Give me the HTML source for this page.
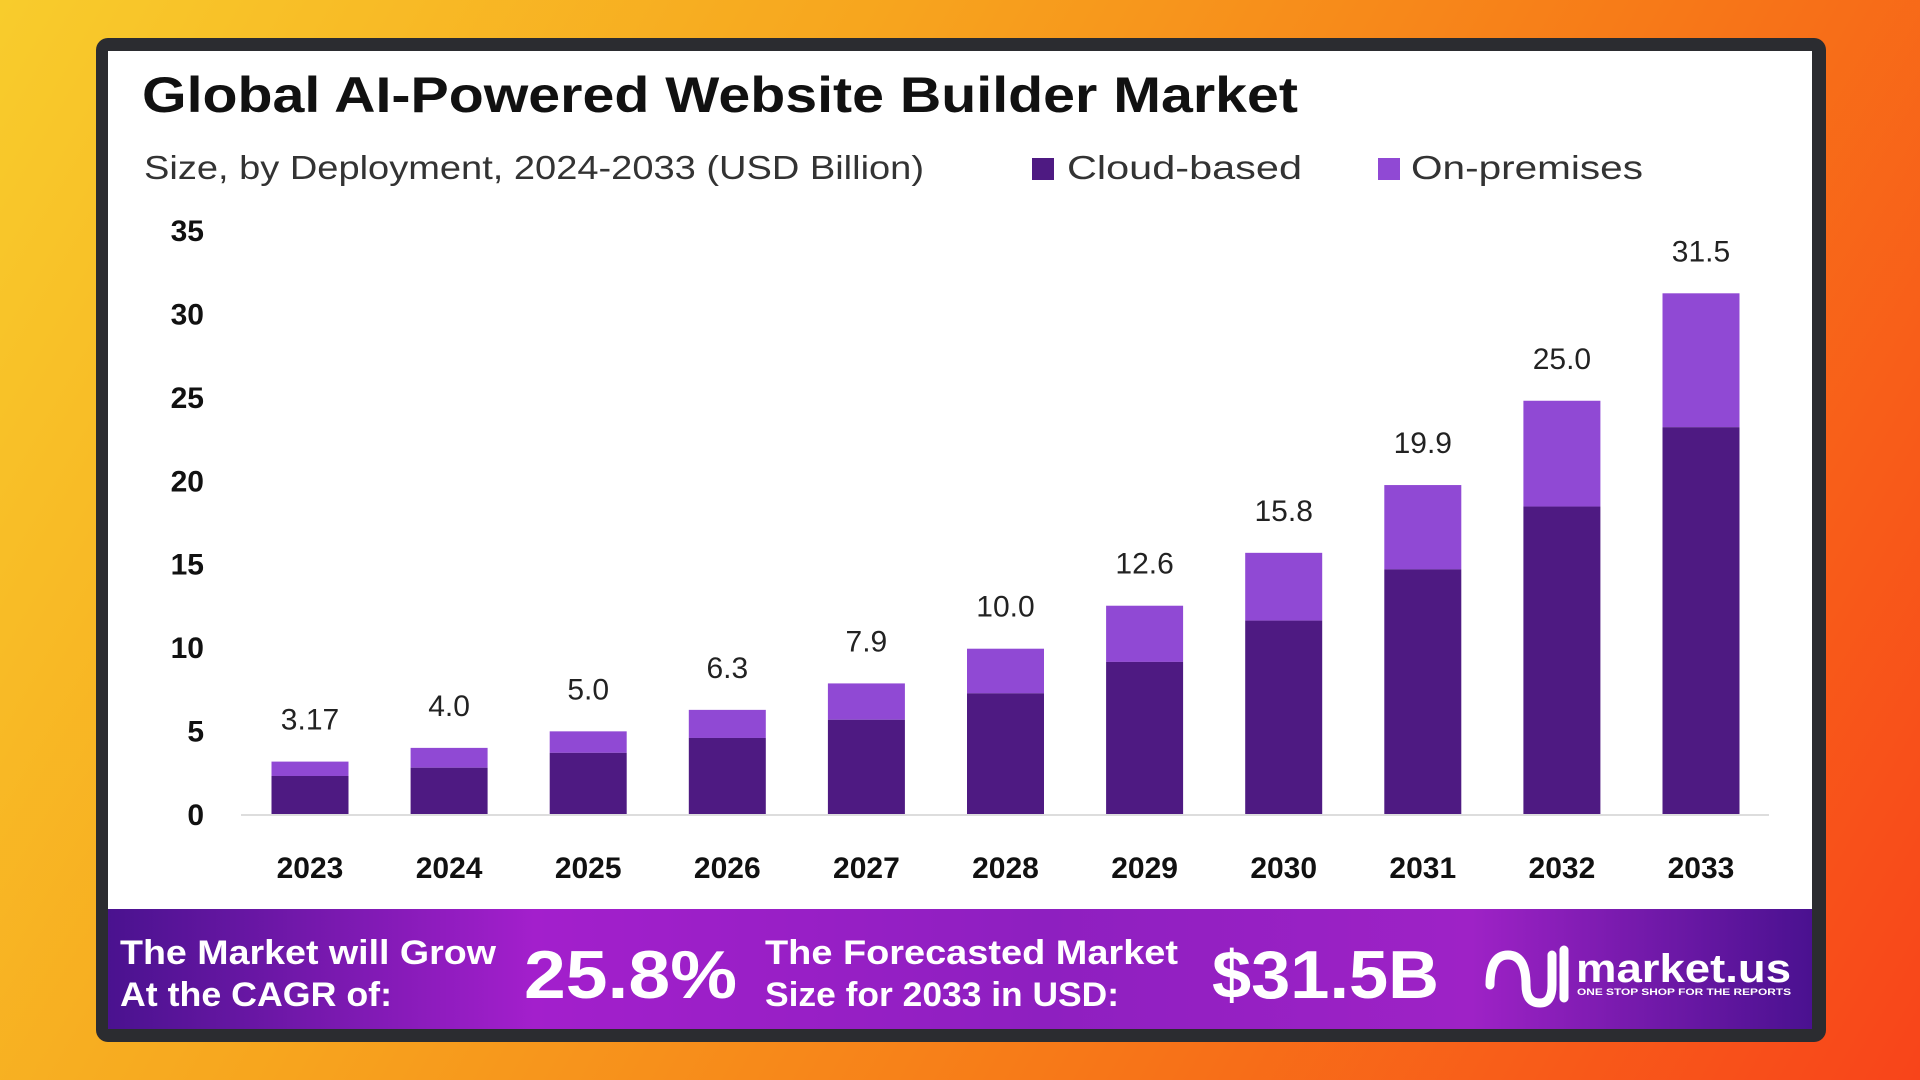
<!DOCTYPE html>
<html><head><meta charset="utf-8"><style>
html,body{margin:0;padding:0;width:1920px;height:1080px;overflow:hidden}
body{background:linear-gradient(120deg,#f8cc2c 0%,#f7a51e 35%,#f77a18 65%,#f8441a 100%)}
svg{position:absolute;left:0;top:0}
text{font-family:"Liberation Sans",sans-serif}
</style></head><body>
<svg width="1920" height="1080">
<defs>
<linearGradient id="ban" x1="0" x2="1" y1="0" y2="0">
<stop offset="0" stop-color="#4a128f"/><stop offset="0.25" stop-color="#a31fcc"/><stop offset="0.55" stop-color="#8e1fc0"/><stop offset="0.8" stop-color="#9e22c6"/><stop offset="1" stop-color="#4a1190"/>
</linearGradient>
</defs>
<rect x="96" y="38" width="1730" height="1004" rx="12" fill="#2b2c30"/>
<rect x="108" y="51" width="1704" height="860" fill="#ffffff"/>
<rect x="108" y="909" width="1704" height="120" fill="url(#ban)"/>
<text x="142" y="112" font-size="50" font-weight="bold" fill="#111" textLength="1156" lengthAdjust="spacingAndGlyphs">Global AI-Powered Website Builder Market</text>
<text x="144" y="179" font-size="33" fill="#333" textLength="780" lengthAdjust="spacingAndGlyphs">Size, by Deployment, 2024-2033 (USD Billion)</text>
<g>
<rect x="1032" y="158" width="22" height="22" fill="#4e1a82"/>
<text x="1067" y="179" font-size="33" fill="#333" textLength="235" lengthAdjust="spacingAndGlyphs">Cloud-based</text>
<rect x="1378" y="158" width="22" height="22" fill="#9049d4"/>
<text x="1411" y="179" font-size="33" fill="#333" textLength="232" lengthAdjust="spacingAndGlyphs">On-premises</text>
</g>
<g id="plot"></g>
<g fill="#fff" font-weight="bold">
<text x="120" y="964" font-size="34" textLength="376" lengthAdjust="spacingAndGlyphs">The Market will Grow</text>
<text x="120" y="1006" font-size="34" textLength="272" lengthAdjust="spacingAndGlyphs">At the CAGR of:</text>
<text x="524" y="998" font-size="68" textLength="213" lengthAdjust="spacingAndGlyphs">25.8%</text>
<text x="765" y="964" font-size="34" textLength="413" lengthAdjust="spacingAndGlyphs">The Forecasted Market</text>
<text x="765" y="1006" font-size="34" textLength="354" lengthAdjust="spacingAndGlyphs">Size for 2033 in USD:</text>
<text x="1212" y="998" font-size="68" textLength="227" lengthAdjust="spacingAndGlyphs">$31.5B</text>
<g>
<path d="M1490 985 q0 -30 18 -30 q18 0 18 30 q0 18 14 18 q12 0 12 -18 v-30 M1564 950 v48" stroke="#fff" stroke-width="9" fill="none" stroke-linecap="round"/>
<text x="1576" y="982" font-size="40" textLength="215" lengthAdjust="spacingAndGlyphs">market.us</text>
<text x="1577" y="995" font-size="9" textLength="214" lengthAdjust="spacingAndGlyphs">ONE STOP SHOP FOR THE REPORTS</text>
</g>
</g>
</svg>
<script>
const years=["2023","2024","2025","2026","2027","2028","2029","2030","2031","2032","2033"];
const totals=[3.17,4.0,5.0,6.3,7.9,10.0,12.6,15.8,19.9,25.0,31.5];
const cloud=[2.3,2.8,3.7,4.6,5.7,7.3,9.2,11.7,14.8,18.6,23.4];
const valueLabels=["3.17","4.0","5.0","6.3","7.9","10.0","12.6","15.8","19.9","25.0","31.5"];
const yTicks=[0,5,10,15,20,25,30,35];
const NS="http://www.w3.org/2000/svg";
const g=document.getElementById('plot');
const y0=814,yPer=16.53,tickPer=(814-230)/35;
const yS=v=>y0-v*yPer;
const yT=v=>y0-v*tickPer;
const xS=i=>310+i*139.1;
const bw=77;
function mk(t,a,txt){const e=document.createElementNS(NS,t);for(const k in a)e.setAttribute(k,a[k]);if(txt!=null)e.textContent=txt;g.appendChild(e);return e;}
yTicks.forEach(v=>{const e=mk('text',{x:204,y:yT(v)+11,'font-size':30,'font-weight':'bold','text-anchor':'end',fill:'#111'},String(v));

});
const ax=mk('line',{x1:241,x2:1769,y1:815,y2:815,stroke:'#ddd','stroke-width':2});


years.forEach((yr,i)=>{
const cx=xS(i);
const r1=mk('rect',{x:cx-bw/2,y:yS(totals[i]),width:bw,height:yS(cloud[i])-yS(totals[i]),fill:'#9049d4'});


const r2=mk('rect',{x:cx-bw/2,y:yS(cloud[i]),width:bw,height:y0-yS(cloud[i]),fill:'#4e1a82'});


const t=mk('text',{x:cx,y:yS(totals[i])-32,'font-size':30,'text-anchor':'middle',fill:'#222'},valueLabels[i]);


const xl=mk('text',{x:cx,y:878,'font-size':30,'font-weight':'bold','text-anchor':'middle',fill:'#111'},yr);


});
</script>
</body></html>
